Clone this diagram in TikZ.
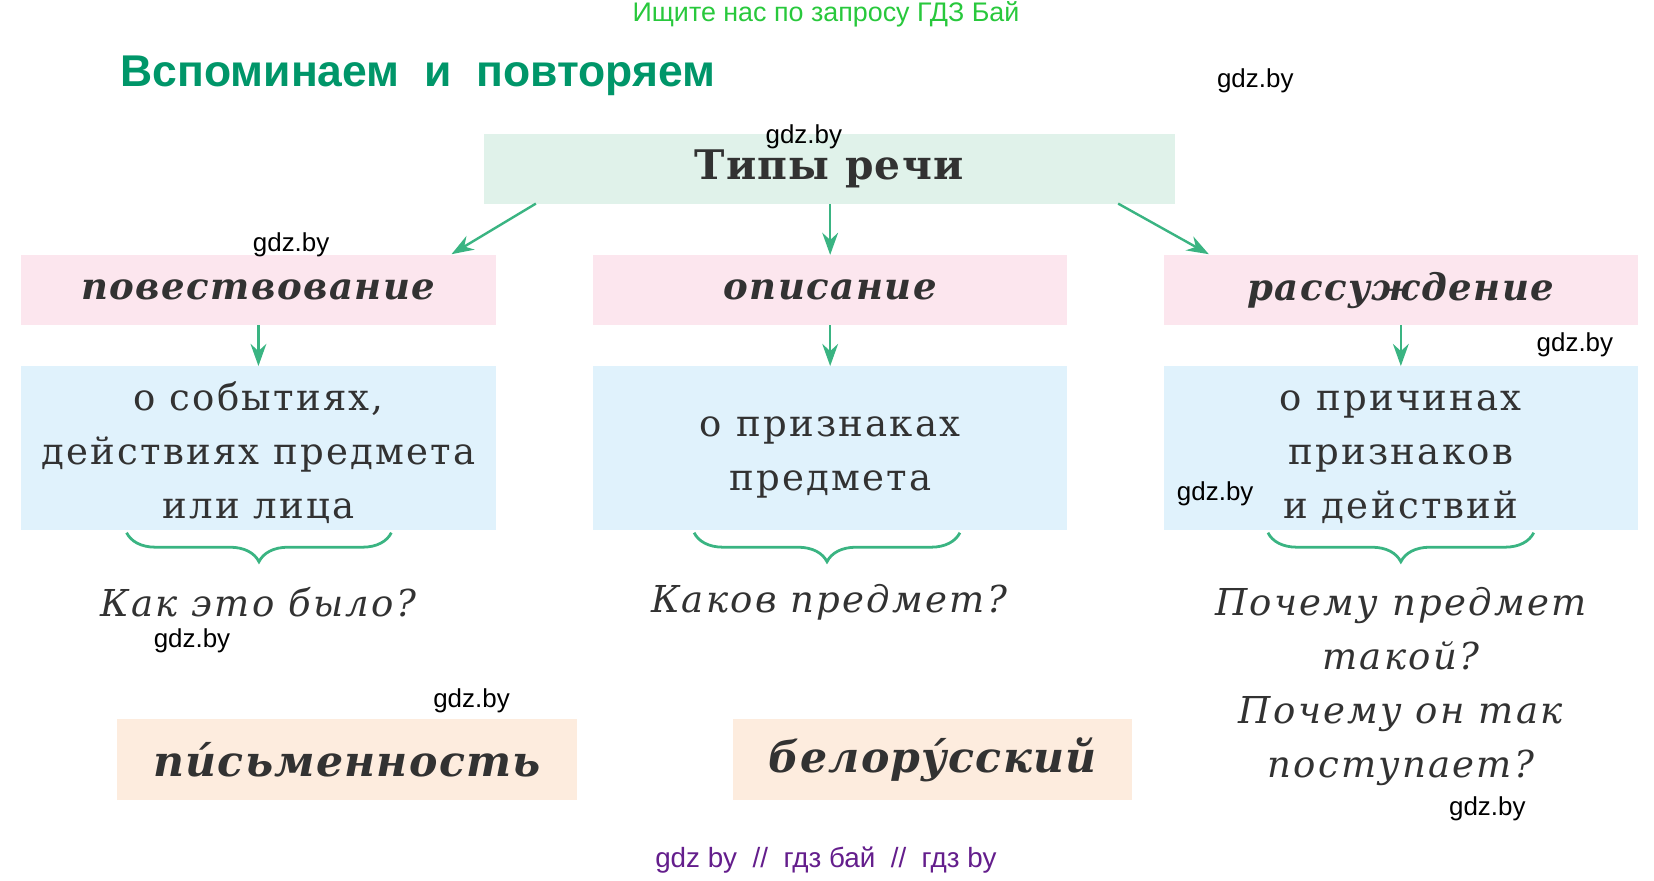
\documentclass[tikz,border=0pt]{standalone}
\usepackage{fontspec}
\setmainfont{DejaVu Serif}
\setsansfont{Liberation Sans}
\usetikzlibrary{decorations.pathreplacing,arrows.meta}
\definecolor{titlegreen}{RGB}{0,150,105}
\definecolor{topgreen}{RGB}{40,200,60}
\definecolor{arrowgreen}{RGB}{58,180,130}
\definecolor{boxgreen}{RGB}{224,242,234}
\definecolor{boxpink}{RGB}{252,230,238}
\definecolor{boxblue}{RGB}{224,242,252}
\definecolor{boxpeach}{RGB}{253,236,222}
\definecolor{txt}{RGB}{50,50,50}
\definecolor{wmpurple}{RGB}{100,30,140}
\begin{document}
\begin{tikzpicture}[x=0.02cm,y=-0.02cm,
    box/.style={inner sep=0pt, text=txt},
    kind/.style={box, fill=boxpink, minimum width=9cm, minimum height=1.32cm, font=\fontsize{20}{24}\selectfont\bfseries\itshape\addfontfeatures{LetterSpace=4}},
    about/.style={box, fill=boxblue, minimum width=9cm, minimum height=3.1cm, align=center, anchor=north, font=\fontsize{20}{29}\selectfont\addfontfeatures{LetterSpace=6}},
    question/.style={text=txt, align=center, font=\fontsize{20}{29}\selectfont\itshape\addfontfeatures{LetterSpace=6}},
    word/.style={box, fill=boxpeach, minimum height=1.54cm, font=\fontsize{23}{26}\selectfont\bfseries\itshape\addfontfeatures{LetterSpace=3}},
    wm/.style={font=\sffamily\fontsize{14}{16}\selectfont},
    arr/.style={-{Stealth[length=0.42cm,width=0.3cm]}, draw=arrowgreen, line width=1.3pt},
    brc/.style={decorate, decoration={brace, mirror, amplitude=0.55cm, aspect=0.5}, draw=arrowgreen, line width=1.5pt}
]
\useasboundingbox (0,0) rectangle (1568,835);

% Headers
\node[text=topgreen, font=\sffamily\fontsize{14.5}{16}\selectfont] (head) at (783,14) {Ищите нас по запросу ГДЗ Бай};
\node[text=titlegreen, anchor=west, font=\sffamily\fontsize{24}{28}\selectfont\bfseries] (title) at (108,72) {Вспоминаем\ \ и\ \ повторяем};

% Top box
\node[box, fill=boxgreen, minimum width=13.1cm, minimum height=1.32cm, font=\fontsize{22}{26}\selectfont\bfseries\addfontfeatures{LetterSpace=3}] (types) at (786,160) {Типы речи};

% Kinds
\node[kind] (narr) at (245,275) {повествование};
\node[kind] (descr) at (787,275) {описание};
\node[kind] (reas) at (1328,275) {рассуждение};

% Contents
\node[about] (narrA) at (245,347) {\rule{0pt}{0.72cm}о событиях,\\действиях предмета\\или лица};
\node[about] (descrA) at (787,347) {\rule{0pt}{0.72cm}о признаках\\предмета};
\node[about] (reasA) at (1328,347) {\rule{0pt}{0.72cm}о причинах\\признаков\\и действий};

% Connections
\coordinate (tl) at (508,193);
\coordinate (tr) at (1060,193);
\draw[arr] (tl) -- (428,241);
\draw[arr] (types.south -| descr) -- (descr);
\draw[arr] (tr) -- (1146,241);
\foreach \n in {narr,descr,reas} {
    \draw[arr] (\n.south) -- (\n A.north);
}

% Braces
\draw[brc] (120,505) -- (371,505);
\draw[brc] (658,505) -- (910,505);
\draw[brc] (1202,505) -- (1454,505);

% Questions
\node[question] (q1) at (245,571) {Как это было?};
\node[question] (q2) at (786,571) {Каков предмет?};
\node[question, anchor=north] (q3) at (1328,551) {Почему предмет\\такой?\\Почему он так\\поступает?};

% Words
\node[word, minimum width=8.72cm] (w1) at (329,720) {пи́сьменность};
\node[word, minimum width=7.58cm] (w2) at (884,720) {белору́сский};

% Watermarks
\foreach \x/\y in {1190/77, 762/130, 276/232, 1493/327, 1152/468, 182/607, 447/664, 1410/767} {
    \node[wm] at (\x,\y) {gdz.by};
}
\node[wm, text=wmpurple, font=\sffamily\fontsize{15}{17}\selectfont] (foot) at (783,815) {gdz by \ // \ гдз бай \ // \ гдз by};
\end{tikzpicture}
\end{document}
